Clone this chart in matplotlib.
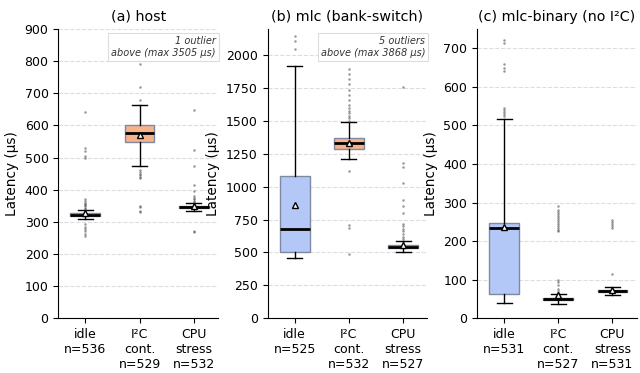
import matplotlib
matplotlib.use("Agg")
import matplotlib.pyplot as plt

PANEL_TITLES = ["(a) host", "(b) mlc (bank-switch)", "(c) mlc-binary (no I²C)"]
CONDITIONS = ["idle", "I²C\ncont.", "CPU\nstress"]
COUNTS = [[536, 529, 532], [525, 532, 527], [531, 527, 531]]
YLIMS = [900, 2200, 750]
YTICKS = [list(range(0, 901, 100)), list(range(0, 2001, 250)), list(range(0, 701, 100))]

# box statistics (us): q1, median, q3, whisker lo, whisker hi, mean
Q1 = [[318, 548, 342], [505, 1285, 535], [62, 46, 67]]
MED = [[322, 575, 346], [680, 1330, 545], [233, 50, 70]]
Q3 = [[327, 600, 349], [1085, 1370, 555], [248, 53, 73]]
WLO = [[310, 473, 333], [460, 1215, 505], [40, 37, 60]]
WHI = [[337, 663, 360], [1920, 1490, 590], [518, 63, 82]]
MEAN = [[328, 570, 350], [865, 1330, 560], [236, 60, 72]]

FLIERS = [
    [
        [255, 262, 270, 278, 285, 292, 340, 344, 348, 352, 356, 360, 365, 372, 500, 505, 520, 530, 643],
        [330, 335, 345, 350, 435, 440, 445, 450, 455, 460, 680, 720, 790, 855],
        [268, 272, 362, 366, 370, 375, 380, 395, 415, 475, 525, 648],
    ],
    [
        [2050, 2110, 2150],
        [490, 690, 710, 1120, 1500, 1520, 1540, 1560, 1580, 1600, 1620, 1660, 1700,
         1740, 1780, 1820, 1860, 1900],
        [600, 620, 640, 660, 680, 700, 720, 800, 850, 900, 1030, 1150, 1180, 1760],
    ],
    [
        [525, 530, 535, 540, 545, 640, 650, 660, 715, 722],
        [65, 70, 75, 85, 95, 100, 225, 230, 235, 240, 245, 250, 255, 260, 265, 270,
         275, 280, 290],
        [115, 235, 240, 245, 250, 255],
    ],
]

NOTES = ["1 outlier\nabove (max 3505 µs)", "5 outliers\nabove (max 3868 µs)", None]

BOX_COLORS = ["#b4c8f7", "#f7b28c", "#c9c9c9"]


def main() -> None:
    fig, axes = plt.subplots(1, 3, figsize=(6.4, 3.73), dpi=100)
    fig.subplots_adjust(left=0.091, right=0.995, top=0.922, bottom=0.147, wspace=0.31)

    for p, ax in enumerate(axes):
        stats = []
        for i in range(3):
            stats.append(dict(
                q1=Q1[p][i], med=MED[p][i], q3=Q3[p][i],
                whislo=WLO[p][i], whishi=WHI[p][i],
                mean=MEAN[p][i], fliers=FLIERS[p][i],
            ))
        bp = ax.bxp(
            stats, positions=range(3), widths=0.55, patch_artist=True,
            showmeans=True,
            medianprops=dict(color="black", linewidth=2),
            whiskerprops=dict(color="black", linewidth=1),
            capprops=dict(color="black", linewidth=1),
            meanprops=dict(marker="^", markerfacecolor="white",
                           markeredgecolor="black", markersize=5),
            flierprops=dict(marker="o", markersize=1.8, markerfacecolor="#555555",
                            markeredgecolor="none", alpha=0.6),
        )
        for patch, color in zip(bp["boxes"], BOX_COLORS):
            patch.set_facecolor(color)
            patch.set_edgecolor("#7f8aa0")
            patch.set_linewidth(1)

        ax.set_xlim(-0.5, 2.45)
        ax.set_ylim(0, YLIMS[p])
        ax.set_yticks(YTICKS[p])
        ax.set_xticks(range(3))
        ax.set_xticklabels([f"{c}\nn={n}" for c, n in zip(CONDITIONS, COUNTS[p])])
        ax.tick_params(labelsize=9)
        ax.set_ylabel("Latency (µs)", fontsize=9.8)
        ax.set_title(PANEL_TITLES[p], fontsize=10.3)
        ax.grid(axis="y", linestyle="--", color="#dddddd", linewidth=0.8)
        ax.set_axisbelow(True)
        ax.spines["top"].set_visible(False)
        ax.spines["right"].set_visible(False)

        if NOTES[p]:
            ax.text(0.985, 0.975, NOTES[p], transform=ax.transAxes, ha="right",
                    va="top", fontsize=7, style="italic", color="#333333",
                    bbox=dict(boxstyle="square,pad=0.3", facecolor="white",
                              edgecolor="#dddddd", linewidth=0.8))

    fig.savefig("out.png", dpi=100)
    plt.close(fig)


if __name__ == "__main__":
    main()
